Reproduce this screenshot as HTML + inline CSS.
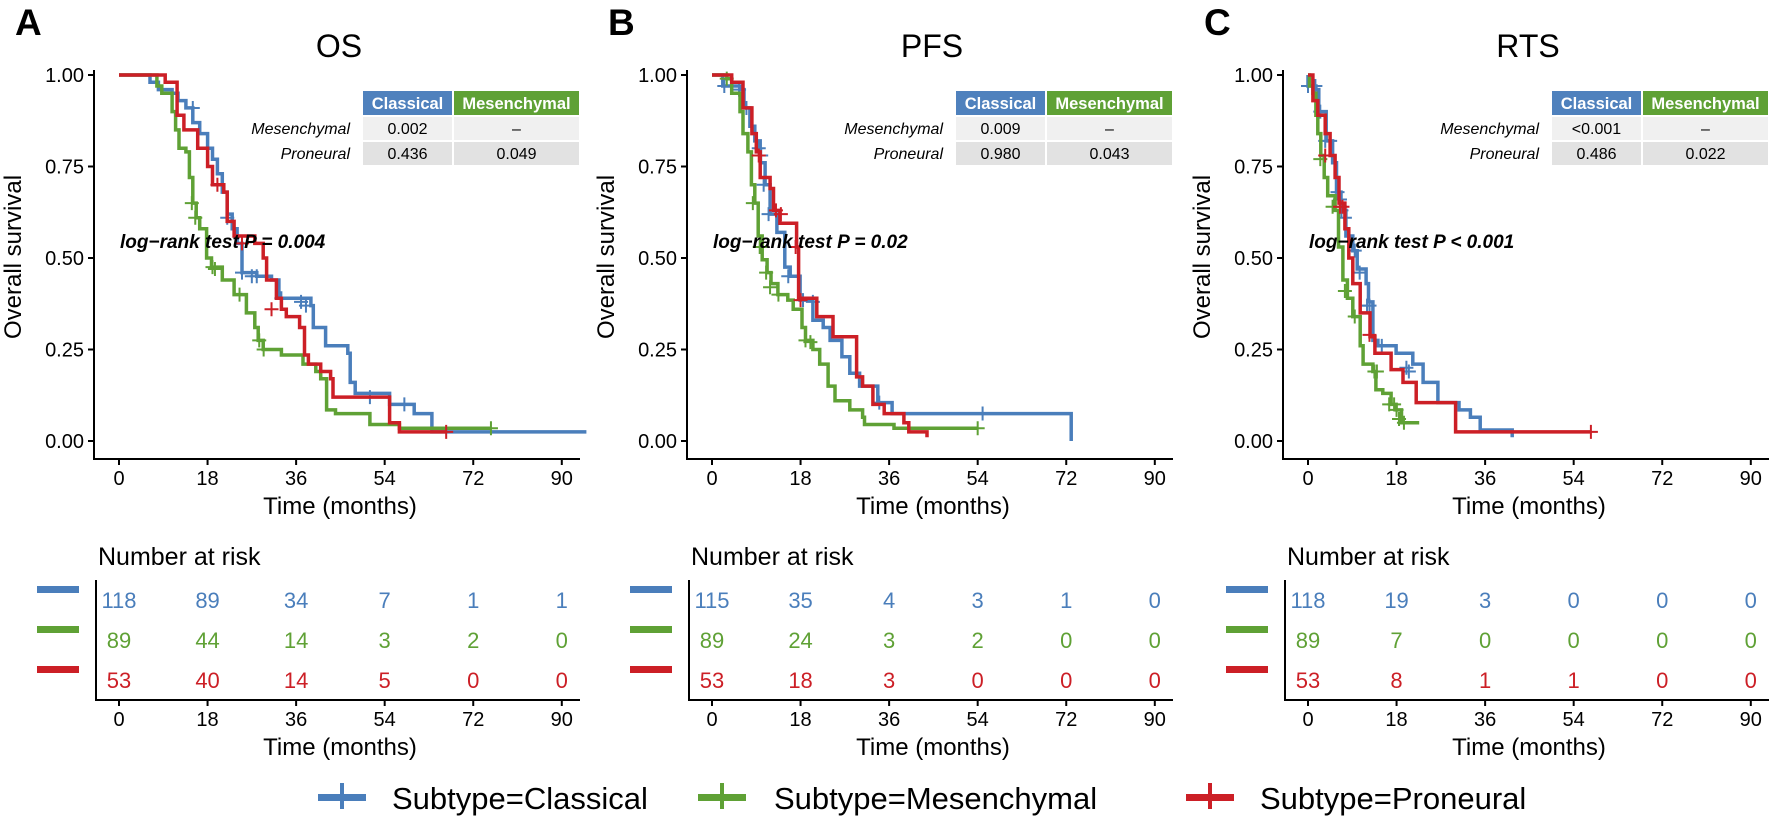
<!DOCTYPE html>
<html><head><meta charset="utf-8">
<style>
html,body{margin:0;padding:0;background:#fff;}
svg{display:block;font-family:"Liberation Sans",Arial,sans-serif;}
</style></head>
<body>
<svg id="fig" width="1772" height="819" viewBox="0 0 1772 819" xmlns="http://www.w3.org/2000/svg"></svg>
<script>
// ---------- data ----------
const panelTitles = ["OS", "PFS", "RTS"];
const panelLetters = ["A", "B", "C"];
const pLogrank = ["log\u2212rank test P = 0.004", "log\u2212rank test P = 0.02", "log\u2212rank test P < 0.001"];
const pairMesClassical = ["0.002", "0.009", "<0.001"];
const pairProClassical = ["0.436", "0.980", "0.486"];
const pairProMes = ["0.049", "0.043", "0.022"];
const xTicks = [0, 18, 36, 54, 72, 90];
const yTicks = [0, 0.25, 0.5, 0.75, 1];
const yTickLabels = ["0.00", "0.25", "0.50", "0.75", "1.00"];
const groups = ["Classical", "Mesenchymal", "Proneural"];

// survival step points [time, survival after drop]
const osClassical = [[6.3,.98],[8,.96],[10.8,.95],[12,.93],[13.6,.91],[15,.87],[16.4,.84],[18,.80],[19,.77],[20,.73],[21,.68],[22,.62],[23,.58],[24,.54],[25,.46],[28,.45],[31,.44],[32.5,.39],[39,.37],[39.5,.31],[42,.26],[46.5,.24],[47,.16],[48,.13],[55,.10],[60,.075],[63.6,.025],[95,.025]];
const osMesenchymal = [[7.7,.97],[8.7,.95],[10.8,.90],[11.5,.85],[12.2,.80],[13.6,.79],[14.3,.72],[15,.65],[15.7,.61],[16.4,.58],[17.8,.50],[18.8,.475],[21,.44],[23.4,.40],[25.9,.35],[27.6,.31],[28.3,.275],[29.3,.25],[33,.235],[37.4,.21],[40,.19],[41,.17],[42.2,.085],[44,.075],[51,.045],[57,.035],[75.6,.035]];
const osProneural = [[9.4,.98],[11.8,.89],[13.2,.85],[16,.80],[18,.75],[19,.70],[21.3,.68],[22,.60],[23.4,.56],[27.6,.54],[29.3,.50],[30,.44],[32,.39],[33,.36],[34,.34],[36.7,.31],[37.7,.235],[38.5,.21],[41,.19],[43,.17],[43.5,.12],[55,.05],[57,.025],[66.5,.025]];
const pfsClassical = [[2.2,.97],[5.7,.96],[6.5,.91],[7.7,.86],[8.7,.82],[9.8,.76],[10.8,.70],[11.8,.62],[13.2,.57],[14.8,.475],[15.9,.45],[17.9,.385],[20.5,.33],[22.6,.31],[24,.275],[26.4,.23],[28,.185],[30,.15],[33.7,.105],[36.6,.075],[73,.075],[73,0]];
const pfsMesenchymal = [[3,.99],[4,.95],[5.7,.90],[6.3,.84],[7.3,.79],[8,.70],[8.7,.65],[9.4,.56],[10.2,.495],[11.2,.46],[12,.43],[13.4,.40],[15.4,.385],[16.5,.36],[18.3,.31],[19,.275],[20.5,.25],[21.9,.21],[23.6,.15],[25,.11],[28,.085],[30.6,.065],[31,.045],[37,.035],[54,.035]];
const pfsProneural = [[4,.98],[6.3,.91],[8.1,.84],[9,.79],[9.8,.72],[11.8,.69],[12.5,.63],[13.8,.595],[17.2,.53],[17.6,.39],[21.3,.34],[24.6,.285],[29.4,.175],[30.6,.15],[32.7,.10],[35,.075],[39,.05],[40,.025],[43.7,.01]];
const rtsClassical = [[0,.97],[1.6,.96],[2.2,.90],[3.7,.82],[5,.76],[5.8,.68],[6.7,.63],[7.7,.56],[9.1,.52],[10,.47],[11.8,.43],[12.3,.38],[13.2,.275],[14.2,.26],[17.9,.24],[21.3,.21],[23.4,.16],[26.4,.105],[30.7,.085],[33,.065],[35,.03],[41.5,.01]];
const rtsMesenchymal = [[0.3,.97],[1,.95],[1.6,.89],[2,.84],[2.6,.78],[3.3,.72],[4,.67],[5.5,.63],[6.2,.53],[7.1,.44],[8,.39],[9.1,.34],[10.6,.26],[11.2,.21],[13.2,.19],[13.8,.14],[15.2,.13],[16.9,.10],[17.9,.085],[19,.05],[22.6,.05]];
const rtsProneural = [[1,.93],[2,.89],[3.5,.84],[4.5,.78],[5.5,.72],[6.3,.65],[7.5,.58],[8.3,.50],[9.1,.43],[10.6,.35],[12.6,.285],[13.6,.24],[16.9,.195],[19.3,.16],[22,.105],[30,.025],[57.5,.025]];

// censor marks [time, survival]
const osClassicalCens = [[15,.91],[22,.61],[25,.46],[27,.45],[28,.45],[33,.39],[37,.38],[38,.37],[51,.12],[58,.10]];
const osMesenchymalCens = [[14.8,.65],[15.5,.61],[19,.475],[19.5,.47],[24.5,.40],[28.5,.275],[29.4,.25],[75.6,.035]];
const osProneuralCens = [[20,.70],[25,.54],[31,.36],[66.5,.025]];
const pfsClassicalCens = [[2.5,.97],[5.5,.96],[7,.91],[9.5,.80],[10,.78],[10.5,.70],[11.5,.62],[15.5,.45],[18.5,.385],[20.5,.38],[34,.105],[55,.075]];
const pfsMesenchymalCens = [[3,.99],[8.3,.65],[9.7,.53],[11,.46],[11.8,.42],[13.5,.40],[19,.275],[20,.27],[54,.035]];
const pfsProneuralCens = [[9.5,.78],[13,.63],[14,.62],[17,.53],[18,.385]];
const rtsClassicalCens = [[0,.97],[1.5,.97],[2.5,.90],[3.5,.82],[4.5,.82],[6,.68],[6.5,.66],[6.8,.63],[7.5,.61],[9.5,.52],[10.5,.46],[12,.37],[12.5,.37],[15,.26],[20,.20],[20.5,.19]];
const rtsMesenchymalCens = [[2.5,.77],[5,.64],[7.5,.41],[9.5,.34],[13.5,.19],[14,.19],[16.5,.10],[17.5,.10],[18,.085],[18.5,.06],[19.5,.05]];
const rtsProneuralCens = [[3.5,.78],[6.5,.64],[7,.64],[12.5,.29],[57.5,.025]];

const riskOS = [[118,89,34,7,1,1],[89,44,14,3,2,0],[53,40,14,5,0,0]];
const riskPFS = [[115,35,4,3,1,0],[89,24,3,2,0,0],[53,18,3,0,0,0]];
const riskRTS = [[118,19,3,0,0,0],[89,7,0,0,0,0],[53,8,1,1,0,0]];

// ---------- drawing ----------
const colors = ["#4A7EBB", "#5FA135", "#CC1F26"];
const NS = "http://www.w3.org/2000/svg";
const svg = document.getElementById("fig");
function mk(tag, attrs, parent, text) {
  const e = document.createElementNS(NS, tag);
  for (const k in attrs) e.setAttribute(k, attrs[k]);
  if (text !== undefined) e.textContent = text;
  (parent || svg).appendChild(e);
  return e;
}
const panelOffsets = [0, 593, 1189];
const curves = [[osClassical, osMesenchymal, osProneural],[pfsClassical, pfsMesenchymal, pfsProneural],[rtsClassical, rtsMesenchymal, rtsProneural]];
const cens = [[osClassicalCens, osMesenchymalCens, osProneuralCens],[pfsClassicalCens, pfsMesenchymalCens, pfsProneuralCens],[rtsClassicalCens, rtsMesenchymalCens, rtsProneuralCens]];
const risks = [riskOS, riskPFS, riskRTS];
const Y0 = 441, Y1 = 75;
const ys = s => Y0 - s * (Y0 - Y1);

panelOffsets.forEach((off, p) => {
  const xs = t => off + 119 + t * 4.92;
  const g = mk("g", {});
  
  

  const L = mk("text", {x: off + 15, y: 35, "font-size": 37, "font-weight": "bold"}, g, panelLetters[p]);
  
  
  const T = mk("text", {x: off + 339, y: 57, "font-size": 32, "text-anchor": "middle"}, g, panelTitles[p]);
  
  

  const ax = mk("path", {d: `M${off+94} 70 V459 H${off+580}`, stroke: "#000", "stroke-width": 2, fill: "none"}, g);
  
  
  yTicks.forEach((v, i) => {
    mk("line", {x1: off+88, x2: off+94, y1: ys(v), y2: ys(v), stroke: "#000", "stroke-width": 2}, g);
    const t = mk("text", {x: off+84, y: ys(v)+7, "font-size": 20, "text-anchor": "end"}, g, yTickLabels[i]);
    
    
  });
  const yl = mk("text", {x: 0, y: 0, "font-size": 24, "text-anchor": "middle", transform: `translate(${off+21},257) rotate(-90)`}, g, "Overall survival");
  
  
  xTicks.forEach(v => {
    mk("line", {x1: xs(v), x2: xs(v), y1: 459, y2: 465, stroke: "#000", "stroke-width": 2}, g);
    const t = mk("text", {x: xs(v), y: 485, "font-size": 20, "text-anchor": "middle"}, g, v);
    
    
  });
  const xl = mk("text", {x: off+340, y: 514, "font-size": 24, "text-anchor": "middle"}, g, "Time (months)");
  
  

  curves[p].forEach((pts, gi) => {
    let d = `M${xs(0)} ${ys(1)}`;
    pts.forEach(([t, s]) => { d += ` H${xs(t).toFixed(1)} V${ys(s).toFixed(1)}`; });
    const c = mk("path", {d, stroke: colors[gi], "stroke-width": 3.5, fill: "none"}, g);
    
    
    cens[p][gi].forEach(([t, s]) => {
      const m = mk("path", {d: `M${xs(t)-7} ${ys(s)} H${xs(t)+7} M${xs(t)} ${ys(s)-7} V${ys(s)+7}`, stroke: colors[gi], "stroke-width": 2, fill: "none"}, g);
      
      
    });
  });

  const lr = mk("text", {x: off+120, y: 248, "font-size": 19, "font-weight": "bold", "font-style": "italic"}, g, pLogrank[p]);
  
  

  const tx = off + 363;
  const th = mk("g", {}, g);
  
  
  mk("rect", {x: tx, y: 91, width: 89, height: 24, fill: "#4F81BD"}, th);
  mk("rect", {x: tx+91, y: 91, width: 125, height: 24, fill: "#5FA135"}, th);
  mk("text", {x: tx+44.5, y: 109, "font-size": 16.5, "font-weight": "bold", fill: "#fff", "text-anchor": "middle"}, th, "Classical");
  mk("text", {x: tx+153.5, y: 109, "font-size": 16.5, "font-weight": "bold", fill: "#fff", "text-anchor": "middle"}, th, "Mesenchymal");
  mk("rect", {x: tx, y: 117, width: 89, height: 23, fill: "#F0F0F0"}, th);
  mk("rect", {x: tx+91, y: 117, width: 125, height: 23, fill: "#F0F0F0"}, th);
  mk("rect", {x: tx, y: 142, width: 89, height: 23, fill: "#E2E2E2"}, th);
  mk("rect", {x: tx+91, y: 142, width: 125, height: 23, fill: "#E2E2E2"}, th);
  mk("text", {x: tx-13, y: 134, "font-size": 16, "font-style": "italic", "text-anchor": "end"}, th, "Mesenchymal");
  mk("text", {x: tx-13, y: 159, "font-size": 16, "font-style": "italic", "text-anchor": "end"}, th, "Proneural");
  mk("text", {x: tx+44.5, y: 134, "font-size": 16, "text-anchor": "middle"}, th, pairMesClassical[p]);
  mk("text", {x: tx+153.5, y: 134, "font-size": 16, "text-anchor": "middle"}, th, "\u2013");
  mk("text", {x: tx+44.5, y: 159, "font-size": 16, "text-anchor": "middle"}, th, pairProClassical[p]);
  mk("text", {x: tx+153.5, y: 159, "font-size": 16, "text-anchor": "middle"}, th, pairProMes[p]);

  const rt = mk("text", {x: off+98, y: 565, "font-size": 25}, g, "Number at risk");
  
  
  mk("path", {d: `M${off+96} 580 V700 H${off+580}`, stroke: "#000", "stroke-width": 2, fill: "none"}, g);
  const rowY = [600, 640, 680];
  risks[p].forEach((row, gi) => {
    const bar = mk("rect", {x: off+37, y: rowY[gi]-14, width: 42, height: 7, fill: colors[gi]}, g);
    
    
    row.forEach((n, k) => {
      const t = mk("text", {x: xs(xTicks[k]), y: rowY[gi]+8, "font-size": 22, fill: colors[gi], "text-anchor": "middle"}, g, n);
      
      
    });
  });
  xTicks.forEach(v => {
    mk("line", {x1: xs(v), x2: xs(v), y1: 700, y2: 706, stroke: "#000", "stroke-width": 2}, g);
    const t = mk("text", {x: xs(v), y: 726, "font-size": 20, "text-anchor": "middle"}, g, v);
    
    
  });
  const rx = mk("text", {x: off+340, y: 755, "font-size": 24, "text-anchor": "middle"}, g, "Time (months)");
  
  
});

const legIconX = [318, 698, 1186];
const legTextX = [392, 774, 1260];
legIconX.forEach((x, gi) => {
  const lg = mk("g", {});
  
  
  mk("rect", {x: x, y: 794, width: 48, height: 7, fill: colors[gi]}, lg);
  mk("rect", {x: x+22, y: 783, width: 4, height: 26, fill: colors[gi]}, lg);
  mk("text", {x: legTextX[gi], y: 809, "font-size": 31}, lg, "Subtype=" + groups[gi]);
});
</script>
</body></html>
